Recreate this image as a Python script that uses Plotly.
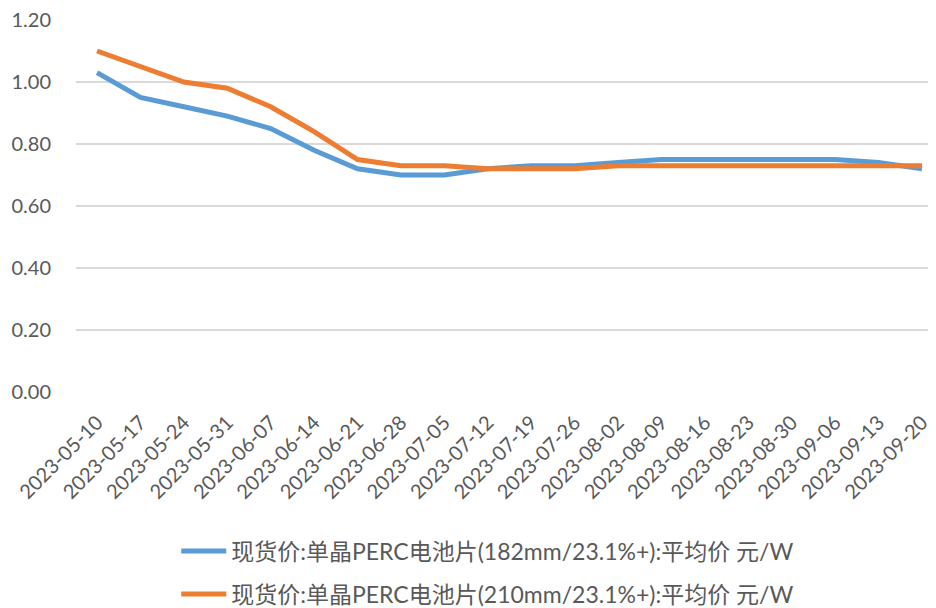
import plotly.graph_objects as go

dates = ["2023-05-10", "2023-05-17", "2023-05-24", "2023-05-31", "2023-06-07",
         "2023-06-14", "2023-06-21", "2023-06-28", "2023-07-05", "2023-07-12",
         "2023-07-19", "2023-07-26", "2023-08-02", "2023-08-09", "2023-08-16",
         "2023-08-23", "2023-08-30", "2023-09-06", "2023-09-13", "2023-09-20"]

price_182 = [1.03, 0.95, 0.92, 0.89, 0.85, 0.78, 0.72, 0.70, 0.70, 0.72,
             0.73, 0.73, 0.74, 0.75, 0.75, 0.75, 0.75, 0.75, 0.74, 0.72]
price_210 = [1.10, 1.05, 1.00, 0.98, 0.92, 0.84, 0.75, 0.73, 0.73, 0.72,
             0.72, 0.72, 0.73, 0.73, 0.73, 0.73, 0.73, 0.73, 0.73, 0.73]

name_182 = "现货价:单晶PERC电池片(182mm/23.1%+):平均价 元/W"
name_210 = "现货价:单晶PERC电池片(210mm/23.1%+):平均价 元/W"

y_ticks = [0, 0.2, 0.4, 0.6, 0.8, 1.0, 1.2]

font_fam = "Lato, 'Noto Sans CJK SC', sans-serif"

fig = go.Figure()
fig.add_trace(go.Scatter(x=dates, y=price_182, mode="lines", name=name_182,
                         legendgroup="a",
                         line=dict(color="#5B9BD5", width=5)))
fig.add_trace(go.Scatter(x=dates, y=price_210, mode="lines", name=name_210,
                         legendgroup="b",
                         line=dict(color="#ED7D31", width=5)))

fig.update_layout(
    width=928, height=616,
    margin=dict(l=68, r=4, t=12, b=232),
    paper_bgcolor="white", plot_bgcolor="white",
    font=dict(family=font_fam, color="#595959", size=20),
    showlegend=True,
    legend=dict(orientation="v", xref="paper", yref="paper",
                x=0.481, xanchor="center", y=-0.370, yanchor="top",
                tracegroupgap=10, itemwidth=45,
                font=dict(family="Lato, 'Noto Sans CJK SC', sans-serif", size=23, color="#595959")),
    xaxis=dict(type="category", range=[-0.484, 19.23],
               tickangle=-45, showgrid=False, zeroline=False,
               showline=False, ticks="", automargin=False,
               ticklabelstandoff=14,
               tickfont=dict(size=20, color="#595959")),
    yaxis=dict(range=[0, 1.2], tickvals=y_ticks, tickformat=".2f",
               showgrid=True, gridcolor="#D9D9D9", gridwidth=1.5,
               zeroline=False, showline=False, ticks="", automargin=False,
               ticklabelstandoff=24, ticklabeloverflow="allow",
               tickfont=dict(size=20, color="#595959")),
)

fig.write_html("out.html")
